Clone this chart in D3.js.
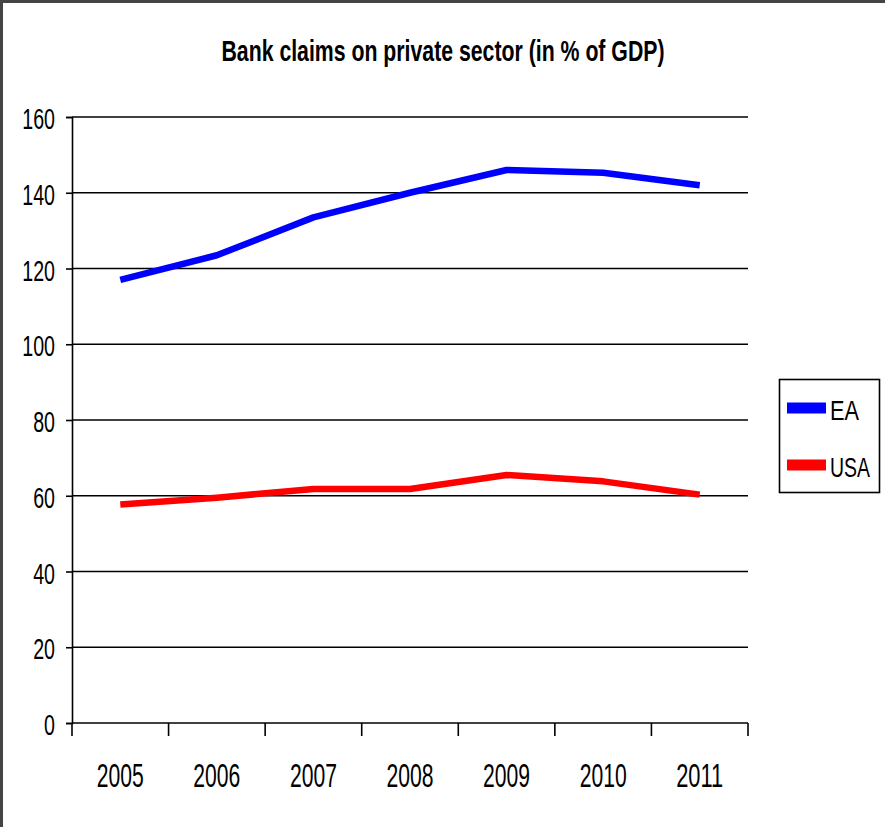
<!DOCTYPE html>
<html>
<head>
<meta charset="utf-8">
<script src="https://cdn.jsdelivr.net/npm/d3@7"></script>
<style>
  body { margin: 0; background: #fff; }
  text { font-family: "Liberation Sans Narrow", "Arial Narrow", "Liberation Sans", Arial, sans-serif; fill: #000; }
</style>
</head>
<body>
<div id="chart"></div>
<script>
  ///////////////////////////////// Data /////////////////////////////////
  var years = ["2005", "2006", "2007", "2008", "2009", "2010", "2011"]
  var eaValues = [117, 123.5, 133.5, 140, 146, 145.3, 142]
  var usaValues = [57.7, 59.5, 61.8, 61.8, 65.5, 63.8, 60.3]
  var yTicks = [0, 20, 40, 60, 80, 100, 120, 140, 160]
  var seriesNames = ["EA", "USA"]
  var seriesColors = ["#0000FF", "#FF0000"]
  var titleText = "Bank claims on private sector (in % of GDP)"

  ///////////////////////////////// Setup /////////////////////////////////
  var W = 885, H = 827
  var plot = { left: 72, right: 748, top: 117, bottom: 723 }

  var svg = d3.select("#chart").append("svg")
    .attr("width", W)
    .attr("height", H)

  // outer frame (only top and left edges visible)
  svg.append("line").attr("x1", 1.5).attr("y1", 0).attr("x2", 1.5).attr("y2", H)
    .attr("stroke", "#444").attr("stroke-width", 3)
  svg.append("line").attr("x1", 0).attr("y1", 1.5).attr("x2", W).attr("y2", 1.5)
    .attr("stroke", "#444").attr("stroke-width", 3)

  var x = d3.scaleBand()
    .domain(years)
    .range([plot.left, plot.right])
    .padding(0)

  var y = d3.scaleLinear()
    .domain([0, 160])
    .range([plot.bottom, plot.top])

  // title
  svg.append("text")
    .attr("x", 443).attr("y", 61)
    .attr("text-anchor", "middle")
    .attr("font-size", 30)
    .attr("font-weight", "bold")
    .attr("textLength", 443)
    .attr("lengthAdjust", "spacingAndGlyphs")
    .text(titleText)

  // gridlines
  svg.append("g").selectAll("line")
    .data(yTicks.filter(d => d > 0))
    .enter().append("line")
    .attr("x1", plot.left).attr("x2", plot.right)
    .attr("y1", d => y(d)).attr("y2", d => y(d))
    .attr("stroke", "#000").attr("stroke-width", 1.6)

  // y axis
  var yAxis = svg.append("g")
    .attr("transform", "translate(" + plot.left + ",0)")
    .call(d3.axisLeft(y).tickValues(yTicks).tickSize(6).tickFormat(d3.format("d")))
  yAxis.select(".domain").attr("stroke", "#000").attr("stroke-width", 1.6)
  yAxis.selectAll(".tick line").attr("stroke", "#000").attr("stroke-width", 1.6)
  yAxis.selectAll(".tick text")
    .attr("x", -17)
    .attr("dy", "0.4em")
    .attr("font-size", 29)
    .attr("font-family", null)
    .attr("textLength", d => String(d).length * 10.9)
    .attr("lengthAdjust", "spacingAndGlyphs")

  // x axis: ticks at category boundaries
  var xAxisG = svg.append("g")
  xAxisG.append("line")
    .attr("x1", plot.left).attr("x2", plot.right)
    .attr("y1", plot.bottom).attr("y2", plot.bottom)
    .attr("stroke", "#000").attr("stroke-width", 1.6)
  var bounds = years.map(d => x(d)).concat([x(years[years.length - 1]) + x.bandwidth()])
  xAxisG.selectAll(".xtick")
    .data(bounds)
    .enter().append("line")
    .attr("class", "xtick")
    .attr("x1", d => d).attr("x2", d => d)
    .attr("y1", plot.bottom).attr("y2", plot.bottom + 13)
    .attr("stroke", "#000").attr("stroke-width", 1.6)
  xAxisG.selectAll(".xlabel")
    .data(years)
    .enter().append("text")
    .attr("class", "xlabel")
    .attr("x", d => x(d) + x.bandwidth() / 2)
    .attr("y", 787)
    .attr("text-anchor", "middle")
    .attr("font-size", 34)
    .attr("textLength", 47)
    .attr("lengthAdjust", "spacingAndGlyphs")
    .text(d => d)

  // lines
  var series = [eaValues, usaValues]
  var line = d3.line()
    .x((d, i) => x(years[i]) + x.bandwidth() / 2)
    .y(d => y(d))

  svg.append("g").selectAll("path")
    .data(series)
    .enter().append("path")
    .attr("d", d => line(d))
    .attr("fill", "none")
    .attr("stroke", (d, i) => seriesColors[i])
    .attr("stroke-width", 6.5)
    .attr("stroke-linejoin", "round")

  // legend
  var legend = svg.append("g")
  legend.append("rect")
    .attr("x", 779.5).attr("y", 379.5)
    .attr("width", 100).attr("height", 113)
    .attr("fill", "#fff").attr("stroke", "#000").attr("stroke-width", 1.6)

  var legendY = [408, 465]
  var legendLen = [29, 40]
  var items = legend.selectAll(".item")
    .data(seriesNames)
    .enter().append("g")
    .attr("class", "item")
  items.append("line")
    .attr("x1", 787).attr("x2", 826)
    .attr("y1", (d, i) => legendY[i]).attr("y2", (d, i) => legendY[i])
    .attr("stroke", (d, i) => seriesColors[i])
    .attr("stroke-width", 11)
  items.append("text")
    .attr("x", 830)
    .attr("y", (d, i) => legendY[i] + 12)
    .attr("font-size", 28)
    .attr("textLength", (d, i) => legendLen[i])
    .attr("lengthAdjust", "spacingAndGlyphs")
    .text(d => d)
</script>
</body>
</html>
